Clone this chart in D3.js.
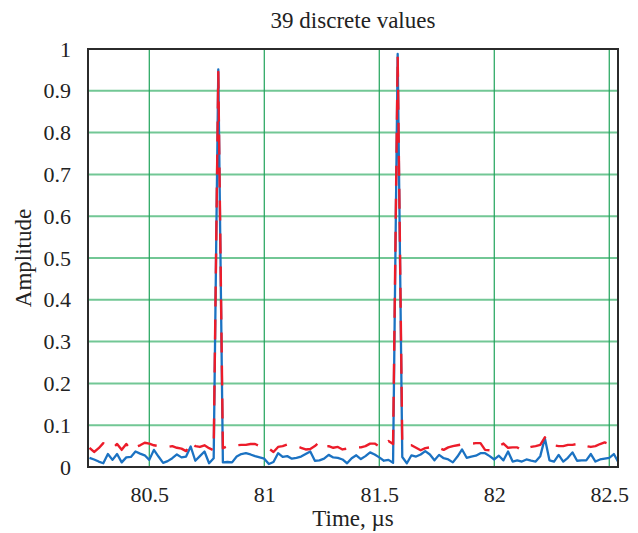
<!DOCTYPE html>
<html>
<head>
<meta charset="utf-8">
<script src="https://cdn.jsdelivr.net/npm/d3@7"></script>
<style>
html,body{margin:0;padding:0;background:#fff;}
svg{display:block;}
</style>
</head>
<body>
<svg id="chart" width="638" height="533"></svg>
<script>
const title = "39 discrete values";
const xLabel = "Time, \u00b5s";
const yLabel = "Amplitude";
const xTicks = [80.5, 81, 81.5, 82, 82.5];
const yTicks = [0, 0.1, 0.2, 0.3, 0.4, 0.5, 0.6, 0.7, 0.8, 0.9, 1];

const time = [
80.24,80.26,80.28,80.30,80.32,80.34,80.36,80.38,80.40,80.42,80.44,80.46,80.48,80.50,80.52,80.54,80.56,80.58,80.60,80.62,
80.64,80.66,80.68,80.70,80.72,80.74,80.76,80.78,80.80,80.82,80.84,80.86,80.88,80.90,80.92,80.94,80.96,80.98,81.00,81.02,
81.04,81.06,81.08,81.10,81.12,81.14,81.16,81.18,81.20,81.22,81.24,81.26,81.28,81.30,81.32,81.34,81.36,81.38,81.40,81.42,
81.44,81.46,81.48,81.50,81.52,81.54,81.56,81.58,81.60,81.62,81.64,81.66,81.68,81.70,81.72,81.74,81.76,81.78,81.80,81.82,
81.84,81.86,81.88,81.90,81.92,81.94,81.96,81.98,82.00,82.02,82.04,82.06,82.08,82.10,82.12,82.14,82.16,82.18,82.20,82.22,
82.24,82.26,82.28,82.30,82.32,82.34,82.36,82.38,82.40,82.42,82.44,82.46,82.48,82.50,82.52,82.54
];

const signalBlue = [
.022,.018,.013,.009,.031,.017,.031,.011,.023,.024,.037,.032,.028,.017,.041,.025,.010,.014,.021,.030,
.023,.025,.049,.015,.026,.037,.009,.021,.951,.011,
.012,.011,.025,.031,.033,.030,.026,.023,.020,.007,.012,.033,.024,.026,.020,.022,.025,.031,.037,.015,
.016,.020,.029,.023,.022,.018,.009,.021,.028,
.019,.026,.035,.030,.023,.015,.017,.010,.988,.024,.009,.028,.025,.030,.038,.030,.016,.029,.021,.018,
.011,.025,.042,.022,.025,.027,.033,.033,.026,.018,
.027,.016,.037,.013,.016,.013,.018,.015,.013,.026,.069,.016,.013,.029,.013,.022,.035,.015,.016,.016,
.031,.013,.018,.020,.022,.031,.011
];

const signalRed = [
.046,.036,.045,.057,.050,.045,.055,.041,.055,.041,.048,.052,.058,.056,.052,.050,.048,.048,.050,.046,
.044,.038,.060,.050,.048,.052,.045,.040,.945,.045,
.050,.048,.052,.053,.053,.055,.055,.050,.047,.044,.036,.048,.050,.054,.052,.050,.046,.042,.043,.050,
.060,.048,.050,.046,.048,.042,.044,.046,.048,
.047,.050,.056,.056,.049,.050,.062,.055,.985,.055,.052,.052,.046,.040,.045,.047,.050,.046,.041,.047,
.050,.052,.054,.056,.056,.057,.057,.041,.040,.045,
.050,.056,.046,.047,.047,.039,.045,.048,.050,.053,.071,.058,.052,.050,.050,.053,.053,.055,.057,.050,
.048,.050,.055,.059,.055,.052,.047
];

const FONT = "'Liberation Serif', 'Times New Roman', serif";
const W = 638, H = 533;
const m = {left: 88, top: 49, right: 20, bottom: 66};
const svg = d3.select("#chart");

const x = d3.scaleLinear().domain([80.2335, 82.538]).range([m.left, W - m.right]);
const y = d3.scaleLinear().domain([0, 1]).range([H - m.bottom, m.top]);

// horizontal grid
svg.append("g").selectAll("line").data(yTicks.filter(v => v > 0 && v < 1)).join("line")
  .attr("x1", m.left).attr("x2", W - m.right)
  .attr("y1", d => y(d)).attr("y2", d => y(d))
  .attr("stroke", "#72c795").attr("stroke-width", 2);

// vertical grid
svg.append("g").selectAll("line").data(xTicks).join("line")
  .attr("x1", d => x(d)).attr("x2", d => x(d))
  .attr("y1", m.top).attr("y2", H - m.bottom)
  .attr("stroke", "#1fa35a").attr("stroke-width", 1.2);

const pts = time.map((t, i) => ({t, b: signalBlue[i], r: signalRed[i]}));

svg.append("defs").append("clipPath").attr("id", "clip")
  .append("rect").attr("x", m.left).attr("y", m.top - 2)
  .attr("width", W - m.right - m.left).attr("height", H - m.bottom - m.top + 2);

const plot = svg.append("g").attr("clip-path", "url(#clip)");

plot.append("path").datum(pts)
  .attr("d", d3.line().x(d => x(d.t)).y(d => y(d.b)))
  .attr("fill", "none").attr("stroke", "#1b72c2").attr("stroke-width", 2.3)
  .attr("stroke-linejoin", "round");

plot.append("path").datum(pts)
  .attr("d", d3.line().x(d => x(d.t)).y(d => y(d.r)))
  .attr("fill", "none").attr("stroke", "#ec1c2a").attr("stroke-width", 2.4)
  .attr("stroke-dasharray", "20,13").attr("stroke-linejoin", "round");

// frame
svg.append("rect").attr("x", m.left).attr("y", m.top)
  .attr("width", W - m.right - m.left).attr("height", H - m.bottom - m.top)
  .attr("fill", "none").attr("stroke", "#2b2b2b").attr("stroke-width", 2);

// axes
const xAxis = svg.append("g").attr("transform", `translate(0,${H - m.bottom})`)
  .call(d3.axisBottom(x).tickValues(xTicks).tickSize(0).tickPadding(19).tickFormat(d3.format("")));
const yAxis = svg.append("g").attr("transform", `translate(${m.left},0)`)
  .call(d3.axisLeft(y).tickValues(yTicks).tickSize(0).tickPadding(17).tickFormat(d3.format("")));
[xAxis, yAxis].forEach(a => {
  a.select(".domain").remove();
  a.attr("font-family", null).attr("font-size", null);
  a.selectAll("text").style("font-size", "22px").style("font-family", FONT).style("fill", "#222");
});

function label(sel) {
  return sel.style("font-family", FONT).style("font-size", "23px").style("fill", "#222").attr("text-anchor", "middle");
}
svg.append("text").attr("x", (m.left + W - m.right) / 2).attr("y", 28).call(label).text(title);
svg.append("text").attr("x", (m.left + W - m.right) / 2).attr("y", 526).call(label).text(xLabel);
svg.append("text").attr("transform", `translate(31,${(m.top + H - m.bottom) / 2}) rotate(-90)`).call(label).text(yLabel);
</script>
</body>
</html>
